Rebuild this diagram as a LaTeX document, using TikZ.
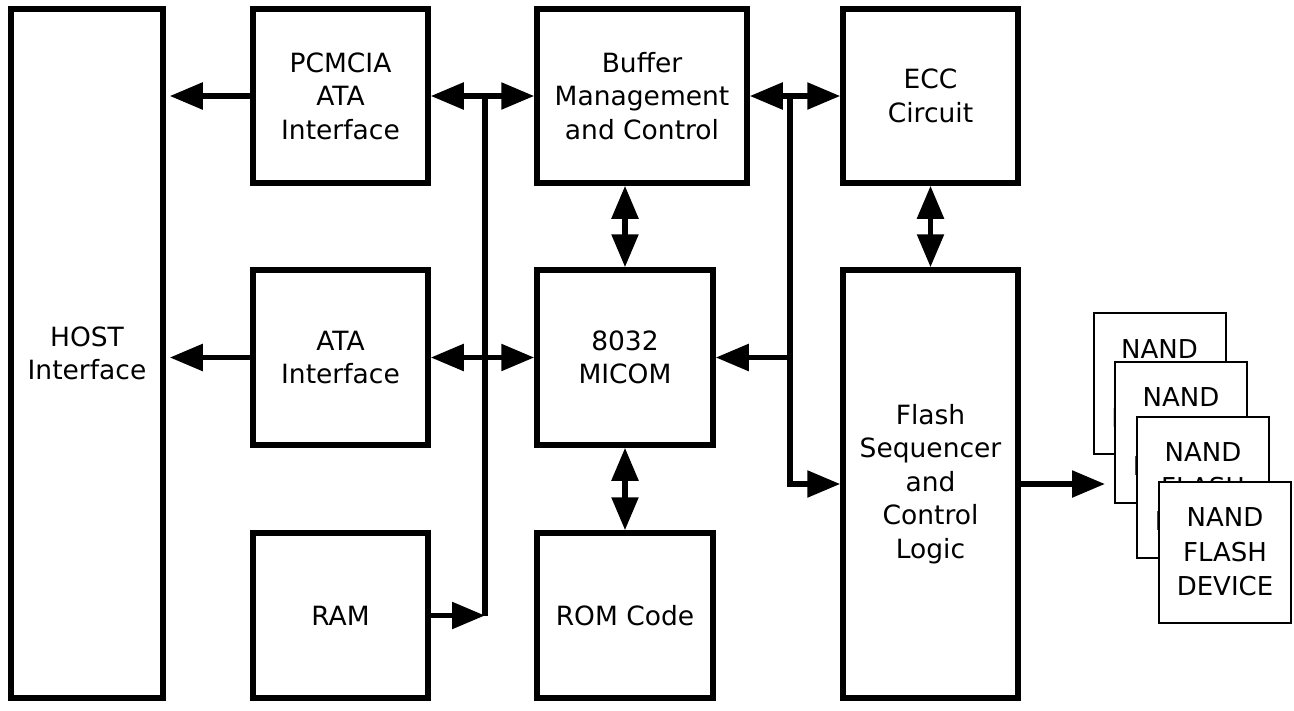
\documentclass[tikz,border=0pt]{standalone}
\usepackage{fontspec}
\setmainfont{DejaVu Sans}
\usepackage{tikz}
\usetikzlibrary{arrows.meta,positioning}

\begin{document}
\begin{tikzpicture}[x=1pt,y=-1pt,
  blk/.style={draw,line width=5.5pt,rectangle,align=center,inner sep=0pt,font=\fontsize{26.5}{33.5}\selectfont},
  chip/.style={draw,line width=2pt,fill=white,rectangle,align=center,inner sep=0pt,minimum width=132pt,minimum height=141pt,font=\fontsize{26}{34.5}\selectfont},
  wire/.style={line width=5.5pt},
  arr/.style={line width=5.5pt,-{Triangle[length=33pt,width=26pt]}},
  darr/.style={line width=5.5pt,{Triangle[length=33pt,width=26pt]}-{Triangle[length=33pt,width=26pt]}}]
  \useasboundingbox (0,0) rectangle (1294,710);

  \node[blk,minimum width=152pt,minimum height=689pt] (host) at (87,353.5) {HOST\\Interface};

  \node[blk,minimum width=175pt,minimum height=174pt] (pcm) at (340.5,96) {PCMCIA\\ATA\\Interface};
  \node[blk,minimum width=175pt,minimum height=175pt] (ata) at (340.5,357.5) {ATA\\Interface};
  \node[blk,minimum width=175pt,minimum height=165pt] (ram) at (340.5,615.5) {RAM};

  \node[blk,minimum width=210pt,minimum height=174pt] (buf) at (642,96) {Buffer\\Management\\and Control};
  \node[blk,minimum width=176pt,minimum height=175pt] (mcu) at (625,357.5) {8032\\MICOM};
  \node[blk,minimum width=176pt,minimum height=165pt] (rom) at (625,615.5) {ROM Code};

  \node[blk,minimum width=175pt,minimum height=174pt] (ecc) at (930.5,96) {ECC\\Circuit};
  \node[blk,minimum width=175pt,minimum height=428pt] (fsc) at (930.5,484) {Flash\\Sequencer\\and\\Control\\Logic};

  \node[chip] (nand1) at (1159.5,383.5) {NAND\\FLASH\\DEVICE};
  \node[chip] (nand2) at (1181,432) {NAND\\FLASH\\DEVICE};
  \node[chip] (nand3) at (1203,487) {NAND\\FLASH\\DEVICE};
  \node[chip] (nand4) at (1225,552) {NAND\\FLASH\\DEVICE};

  \coordinate (lbus) at (485,0);
  \coordinate (rbus) at (790,0);
  \coordinate (nin) at (1105,484);

  % host side
  \draw[arr,shorten >=4pt] (pcm.west) -- (pcm.west -| host.east);
  \draw[arr,shorten >=4pt] (ata.west) -- (ata.west -| host.east);

  % left bus
  \draw[wire] (lbus |- pcm.east) -- (lbus |- ram.east);
  \draw[darr] (pcm.east) -- (buf.west);
  \draw[darr] (ata.east) -- (mcu.west);
  \draw[arr] (ram.east) -- (lbus |- ram.east);

  % right bus
  \draw[darr] (buf.east) -- (ecc.west);
  \draw[arr] (rbus |- buf.east) -- (rbus |- fsc.west) -- (fsc.west);
  \draw[arr] (rbus |- mcu.east) -- (mcu.east);

  % vertical links
  \draw[darr] (mcu.north |- buf.south) -- (mcu.north);
  \draw[darr] (mcu.south) -- (rom.north);
  \draw[darr] (ecc.south) -- (fsc.north);

  \draw[arr] (fsc.east) -- (nin);
\end{tikzpicture}
\end{document}
